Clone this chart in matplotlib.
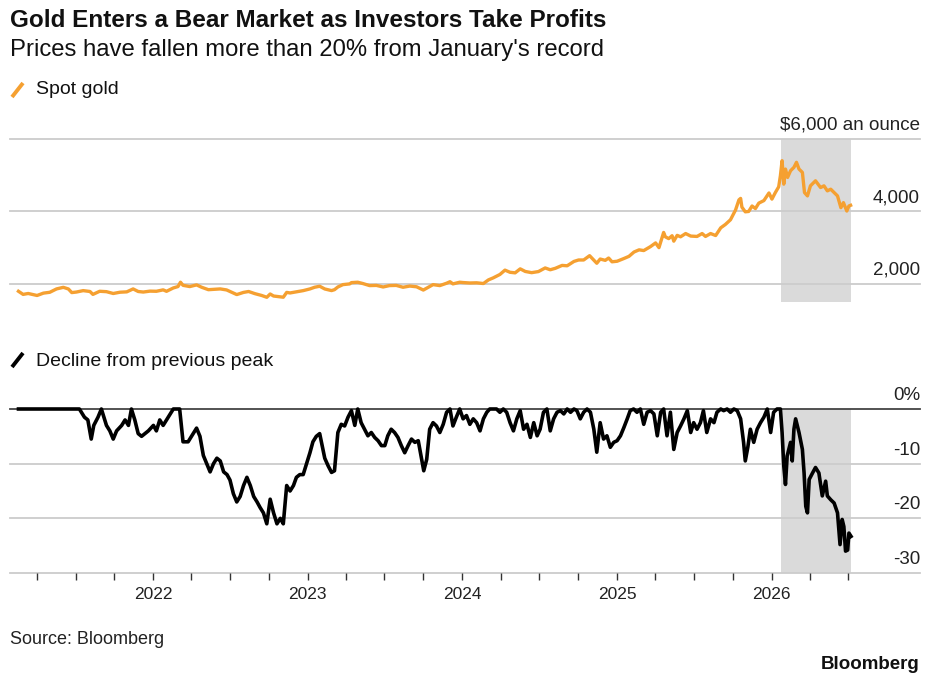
import matplotlib.pyplot as plt
import matplotlib.transforms as mtransforms
from matplotlib.lines import Line2D
import pandas as pd

plt.rcParams['font.family'] = ['Liberation Sans', 'DejaVu Sans']

# spot gold, $/oz
gold_dates = [
    "2021-02-16", "2021-02-27", "2021-03-11", "2021-04-01", "2021-04-16", "2021-05-01",
    "2021-05-17", "2021-06-02", "2021-06-14", "2021-06-22", "2021-07-03", "2021-07-19",
    "2021-08-04", "2021-08-11", "2021-08-27", "2021-09-12", "2021-09-28", "2021-10-14",
    "2021-10-30", "2021-11-14", "2021-11-26", "2021-12-08", "2021-12-24", "2022-01-08",
    "2022-01-24", "2022-02-01", "2022-02-17", "2022-02-28", "2022-03-06", "2022-03-12",
    "2022-03-28", "2022-04-13", "2022-04-25", "2022-05-11", "2022-05-23", "2022-06-08",
    "2022-06-23", "2022-07-05", "2022-07-17", "2022-08-02", "2022-08-14", "2022-08-29",
    "2022-09-14", "2022-09-26", "2022-10-04", "2022-10-12", "2022-10-28", "2022-11-04",
    "2022-11-12", "2022-11-20", "2022-12-05", "2022-12-21", "2023-01-06", "2023-01-17",
    "2023-01-29", "2023-02-10", "2023-02-26", "2023-03-05", "2023-03-13", "2023-03-25",
    "2023-04-10", "2023-04-14", "2023-04-29", "2023-05-11", "2023-05-27", "2023-06-12",
    "2023-06-28", "2023-07-13", "2023-07-29", "2023-08-14", "2023-08-30", "2023-09-15",
    "2023-10-01", "2023-10-13", "2023-10-24", "2023-11-09", "2023-11-25", "2023-12-03",
    "2023-12-10", "2023-12-26", "2024-01-03", "2024-01-19", "2024-02-04", "2024-02-20",
    "2024-03-03", "2024-03-14", "2024-03-30", "2024-04-11", "2024-04-23", "2024-05-05",
    "2024-05-17", "2024-05-29", "2024-06-13", "2024-06-29", "2024-07-15", "2024-07-27",
    "2024-08-08", "2024-08-24", "2024-09-05", "2024-09-21", "2024-10-02", "2024-10-14",
    "2024-10-28", "2024-11-06", "2024-11-14", "2024-11-22", "2024-12-04", "2024-12-12",
    "2024-12-20", "2025-01-01", "2025-01-17", "2025-01-29", "2025-02-10", "2025-02-22",
    "2025-03-05", "2025-03-21", "2025-04-02", "2025-04-10", "2025-04-21", "2025-04-25",
    "2025-05-03", "2025-05-11", "2025-05-15", "2025-05-23", "2025-05-31", "2025-06-12",
    "2025-06-24", "2025-07-09", "2025-07-21", "2025-07-29", "2025-08-10", "2025-08-22",
    "2025-09-03", "2025-09-14", "2025-09-26", "2025-10-08", "2025-10-16", "2025-10-20",
    "2025-10-23", "2025-10-31", "2025-11-08", "2025-11-16", "2025-11-24", "2025-12-02",
    "2025-12-14", "2025-12-26", "2026-01-02", "2026-01-10", "2026-01-18", "2026-01-22",
    "2026-01-26", "2026-01-30", "2026-02-03", "2026-02-08", "2026-02-15", "2026-02-23",
    "2026-03-01", "2026-03-07", "2026-03-15", "2026-03-20", "2026-03-27", "2026-04-03",
    "2026-04-15", "2026-04-27", "2026-05-05", "2026-05-13", "2026-05-21", "2026-05-29",
    "2026-06-06", "2026-06-14", "2026-06-20", "2026-06-28", "2026-07-03", "2026-07-07",
]
gold_price = [
    1796, 1710, 1735, 1680, 1745, 1768,
    1861, 1905, 1860, 1760, 1775, 1814,
    1790, 1710, 1796, 1785, 1735, 1770,
    1780, 1861, 1790, 1775, 1800, 1796,
    1835, 1795, 1888, 1926, 2046, 1960,
    1926, 1972, 1907, 1840, 1850, 1861,
    1833, 1768, 1705, 1765, 1790, 1730,
    1680, 1630, 1721, 1665, 1640, 1632,
    1765, 1750, 1780, 1814, 1861, 1907,
    1935, 1860, 1815, 1840, 1915, 1980,
    2000, 2035, 2046, 2010, 1953, 1958,
    1915, 1953, 1958, 1907, 1940, 1920,
    1830, 1907, 1980, 1953, 2018, 2060,
    2000, 2046, 2037, 2025, 2030, 2010,
    2111, 2165, 2260, 2380, 2320, 2305,
    2415, 2343, 2310, 2340, 2440, 2390,
    2430, 2510, 2500, 2620, 2660, 2660,
    2779, 2670, 2570, 2686, 2650, 2714,
    2610, 2625, 2700, 2760, 2880, 2940,
    2920, 3030, 3131, 3000, 3420, 3300,
    3250, 3330, 3180, 3340, 3300, 3390,
    3320, 3310, 3390, 3310, 3390, 3335,
    3548, 3641, 3770, 4040, 4320, 4360,
    4120, 3990, 4000, 4150, 4080, 4230,
    4300, 4510, 4340, 4520, 4680, 4985,
    5402, 4753, 5170, 4939, 5124, 5217,
    5356, 5170, 5078, 4521, 4429, 4707,
    4846, 4660, 4707, 4568, 4614, 4521,
    4429, 4104, 4243, 4012, 4151, 4170,
]

# decline from previous peak, %
decline_dates = [
    "2021-02-16", "2021-07-10", "2021-07-22", "2021-07-30", "2021-08-07", "2021-08-13",
    "2021-08-23", "2021-08-31", "2021-09-12", "2021-09-20", "2021-09-28", "2021-10-06",
    "2021-10-18", "2021-10-26", "2021-11-03", "2021-11-10", "2021-11-18", "2021-11-26",
    "2021-12-04", "2021-12-12", "2021-12-20", "2022-01-01", "2022-01-08", "2022-01-16",
    "2022-01-24", "2022-02-01", "2022-02-09", "2022-02-17", "2022-03-04", "2022-03-12",
    "2022-03-24", "2022-04-01", "2022-04-09", "2022-04-13", "2022-04-21", "2022-04-29",
    "2022-05-07", "2022-05-15", "2022-05-23", "2022-05-31", "2022-06-08", "2022-06-16",
    "2022-06-24", "2022-07-01", "2022-07-09", "2022-07-17", "2022-07-25", "2022-08-02",
    "2022-08-10", "2022-08-18", "2022-08-26", "2022-09-03", "2022-09-10", "2022-09-18",
    "2022-09-26", "2022-10-04", "2022-10-12", "2022-10-20", "2022-10-28", "2022-11-04",
    "2022-11-12", "2022-11-20", "2022-11-28", "2022-12-05", "2022-12-13", "2022-12-21",
    "2022-12-29", "2023-01-06", "2023-01-13", "2023-01-21", "2023-01-29", "2023-02-10",
    "2023-02-18", "2023-02-26", "2023-03-05", "2023-03-13", "2023-03-21", "2023-03-29",
    "2023-04-06", "2023-04-14", "2023-04-22", "2023-04-29", "2023-05-07", "2023-05-15",
    "2023-05-23", "2023-05-31", "2023-06-08", "2023-06-16", "2023-06-24", "2023-07-02",
    "2023-07-09", "2023-07-17", "2023-07-25", "2023-08-02", "2023-08-10", "2023-08-18",
    "2023-08-26", "2023-09-03", "2023-09-11", "2023-09-19", "2023-09-27", "2023-10-02",
    "2023-10-09", "2023-10-16", "2023-10-24", "2023-11-01", "2023-11-09", "2023-11-17",
    "2023-11-25", "2023-12-03", "2023-12-10", "2023-12-18", "2023-12-26", "2024-01-03",
    "2024-01-11", "2024-01-19", "2024-01-27", "2024-02-04", "2024-02-12", "2024-02-20",
    "2024-02-28", "2024-03-06", "2024-03-22", "2024-03-30", "2024-04-07", "2024-04-15",
    "2024-04-23", "2024-05-01", "2024-05-09", "2024-05-17", "2024-05-25", "2024-06-02",
    "2024-06-10", "2024-06-18", "2024-06-26", "2024-07-03", "2024-07-11", "2024-07-19",
    "2024-07-27", "2024-08-04", "2024-08-12", "2024-08-20", "2024-08-28", "2024-09-05",
    "2024-09-13", "2024-09-21", "2024-09-28", "2024-10-06", "2024-10-14", "2024-10-22",
    "2024-10-30", "2024-11-07", "2024-11-14", "2024-11-22", "2024-11-30", "2024-12-08",
    "2024-12-16", "2024-12-24", "2025-01-01", "2025-01-09", "2025-01-17", "2025-01-25",
    "2025-02-01", "2025-02-09", "2025-02-17", "2025-02-25", "2025-03-05", "2025-03-13",
    "2025-03-21", "2025-03-29", "2025-04-06", "2025-04-14", "2025-04-21", "2025-04-29",
    "2025-05-07", "2025-05-15", "2025-05-23", "2025-05-31", "2025-06-08", "2025-06-16",
    "2025-06-24", "2025-07-01", "2025-07-09", "2025-07-17", "2025-07-24", "2025-08-01",
    "2025-08-10", "2025-08-18", "2025-08-25", "2025-09-03", "2025-09-10", "2025-09-18",
    "2025-09-26", "2025-10-04", "2025-10-12", "2025-10-20", "2025-10-27", "2025-10-31",
    "2025-11-06", "2025-11-12", "2025-11-20", "2025-11-28", "2025-12-06", "2025-12-14",
    "2025-12-22", "2025-12-30", "2026-01-06", "2026-01-14", "2026-01-22", "2026-01-26",
    "2026-01-30", "2026-02-03", "2026-02-07", "2026-02-15", "2026-02-19", "2026-02-23",
    "2026-02-27", "2026-03-07", "2026-03-15", "2026-03-19", "2026-03-23", "2026-03-27",
    "2026-03-31", "2026-04-08", "2026-04-15", "2026-04-23", "2026-05-01", "2026-05-09",
    "2026-05-13", "2026-05-21", "2026-05-29", "2026-06-06", "2026-06-12", "2026-06-17",
    "2026-06-21", "2026-06-25", "2026-06-30", "2026-07-03", "2026-07-08",
]
decline_pct = [
    0, 0, -1.5, -2, -5.5, -3,
    -1.5, 0, -3, -4, -5.5, -4,
    -3, -2, -3, 0, -2, -4.5,
    -5, -4.5, -4, -3, -4, -2,
    -3, -2, -1, 0, 0, -6,
    -6, -5, -4, -3.5, -5, -8.5,
    -10, -11.5, -10, -9, -9.5, -11.5,
    -12, -13, -15.5, -17, -16, -14,
    -12.5, -14, -16, -17, -18, -19,
    -21, -16.5, -19, -21, -20, -21,
    -14, -15, -14, -12.5, -12, -12,
    -10, -8, -6, -5, -4.5, -9,
    -10.4, -11.6, -11.3, -4.3, -2.8, -3.1,
    -1.5, -0.3, -3, 0, -2.5, -3.7,
    -4.9, -4.3, -5.2, -5.8, -6.7, -6.7,
    -4.9, -3.7, -4.3, -5.2, -6.7, -8,
    -6.7, -5.5, -6.1, -5.8, -9.2, -11.3,
    -9.2, -3.7, -2.5, -3.1, -4.3, -2.8,
    -0.6, 0, -3.1, -1.5, 0, -1.8,
    -1.2, -2.8, -1.8, -2.5, -4, -1.8,
    -0.6, 0, 0, -0.6, 0, -0.6,
    -2.5, -4, -1.8, -0.3, -3.7, -2.8,
    -5.2, -2.5, -4.9, -3.7, -0.6, 0,
    -4, -1.8, -0.6, -0.3, -0.9, 0,
    -0.6, 0, -0.3, -1.8, -0.6, 0,
    -0.6, -3.7, -7.9, -2.5, -5.5, -4.9,
    -7, -6.1, -5.8, -4.9, -3.4, -1.8,
    -0.3, 0, -0.6, 0, -2.8, -0.6,
    -0.3, -0.9, -4.9, -0.6, 0, -4.9,
    -0.6, -7.4, -4.3, -3.1, -1.8, -0.3,
    -4.3, -2.5, -3.7, -2.5, -0.3, -4.3,
    -1.8, -2.5, -0.6, 0, -0.3, 0,
    -0.6, 0, -0.3, -1.8, -6.1, -9.5,
    -7, -3.7, -6.1, -3.7, -2.5, -1.5,
    0, -4.3, -0.6, 0, 0, -4.3,
    -10.4, -13.8, -8.6, -6.1, -9.5, -3.7,
    -1.8, -4.3, -7.4, -11.7, -17.8, -19,
    -12.9, -11.7, -10.7, -11.7, -15.9, -13.2,
    -15.9, -16.6, -17.2, -19, -24.8, -20.2,
    -21.5, -26, -25.8, -22.7, -23.3,
]

selloff_start = "2026-01-23"
selloff_end = "2026-07-07"

price_ticks = [2000, 4000, 6000]
price_labels = ["2,000", "4,000", "$6,000 an ounce"]
decline_ticks = [0, -10, -20, -30]
decline_labels = ["0%", "-10", "-20", "-30"]

gold_color = '#F5A031'
grid_color = '#cccccc'
shade_color = '#dadada'

gd = pd.to_datetime(gold_dates)
dd = pd.to_datetime(decline_dates)
xmin, xmax = pd.Timestamp("2021-01-27"), pd.Timestamp("2026-12-18")

W, H = 941, 680
fig = plt.figure(figsize=(W / 100, H / 100), dpi=100)

def fx(px):
    return px / W

def fy(py):
    return 1 - py / H

# top panel: spot gold
ax1 = fig.add_axes([fx(10), fy(302), fx(910), (302 - 139) / H])
ax1.axvspan(pd.Timestamp(selloff_start), pd.Timestamp(selloff_end), color=shade_color, lw=0, zorder=0)
for t in price_ticks:
    ax1.axhline(t, color=grid_color, lw=1.3, zorder=1, clip_on=False)
ax1.plot(gd, gold_price, color=gold_color, lw=2.4, zorder=3, solid_joinstyle='round')
ax1.set_xlim(xmin, xmax)
ax1.set_ylim(1500, 6000)
ax1.axis('off')
trans1 = mtransforms.blended_transform_factory(ax1.transAxes, ax1.transData)
for t, lab in zip(price_ticks, price_labels):
    ax1.annotate(lab, xy=(1, t), xycoords=trans1, xytext=(0, 6.5), textcoords='offset points',
                 ha='right', va='baseline', fontsize=13.5, color='#222222')

# bottom panel: decline from peak
ax2 = fig.add_axes([fx(10), fy(573), fx(910), (573 - 409) / H])
ax2.axvspan(pd.Timestamp(selloff_start), pd.Timestamp(selloff_end), color=shade_color, lw=0, zorder=0)
for t in decline_ticks[1:]:
    ax2.axhline(t, color=grid_color, lw=1.3, zorder=1, clip_on=False)
ax2.axhline(0, color='#444444', lw=1.3, zorder=2, clip_on=False)
ax2.plot(dd, decline_pct, color='black', lw=2.6, zorder=3, clip_on=False, solid_joinstyle='round')
ax2.set_xlim(xmin, xmax)
ax2.set_ylim(-30, 0)
for s in ax2.spines.values():
    s.set_visible(False)
ax2.set_yticks([])
qticks = pd.date_range("2021-04-01", "2026-07-01", freq="QS")
ax2.set_xticks(qticks)
ax2.set_xticklabels([str(d.year) if d.month == 1 else "" for d in qticks])
ax2.tick_params(axis='x', length=5, width=1, color='#333333', pad=5, labelsize=12.5, labelcolor='#222222')
trans2 = mtransforms.blended_transform_factory(ax2.transAxes, ax2.transData)
for t, lab in zip(decline_ticks, decline_labels):
    ax2.annotate(lab, xy=(1, t), xycoords=trans2, xytext=(0, 6.5), textcoords='offset points',
                 ha='right', va='baseline', fontsize=13.5, color='#222222')

# titles and legend keys
fig.text(fx(10), fy(27), "Gold Enters a Bear Market as Investors Take Profits",
         fontsize=17.5, fontweight='bold', color='#111111')
fig.text(fx(10), fy(56), "Prices have fallen more than 20% from January's record",
         fontsize=17.2, color='#111111')
fig.add_artist(Line2D([fx(12), fx(23)], [fy(97), fy(83)], color=gold_color, lw=2.8,
                      solid_capstyle='butt'))
fig.text(fx(36), fy(94), "Spot gold", fontsize=14, color='#111111')
fig.add_artist(Line2D([fx(12), fx(23)], [fy(367), fy(353)], color='black', lw=2.8,
                      solid_capstyle='butt'))
fig.text(fx(36), fy(366), "Decline from previous peak", fontsize=14, color='#111111')
fig.text(fx(10), fy(644), "Source: Bloomberg", fontsize=13, color='#222222')
fig.text(fx(920), fy(669), "Bloomberg", fontsize=13.5, fontweight='bold', color='#111111', ha='right')

fig.savefig("out.png", dpi=100)
